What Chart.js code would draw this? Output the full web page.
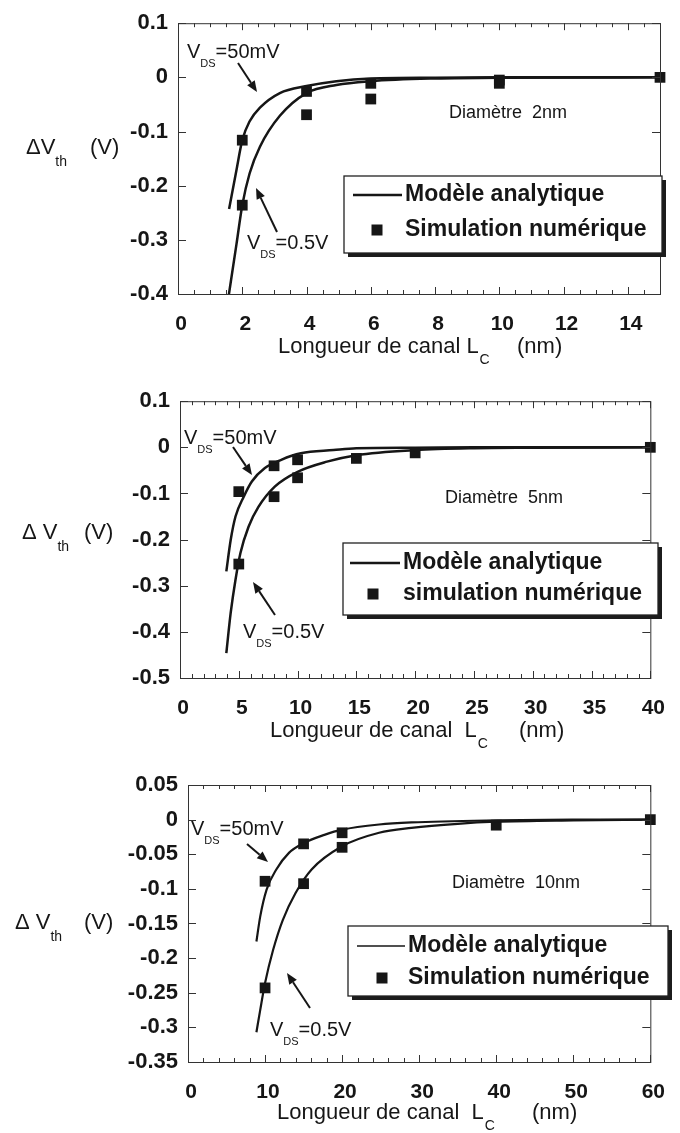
<!DOCTYPE html>
<html>
<head>
<meta charset="utf-8">
<script src="https://cdn.jsdelivr.net/npm/chart.js@4.4.1/dist/chart.umd.min.js"></script>
<style>
  body { margin: 0; background: #fff; width: 680px; height: 1133px; overflow: hidden; }
  .panel { position: absolute; left: 0; }
</style>
</head>
<body>
<div class="panel" style="top:0"><canvas id="c1" width="680" height="378"></canvas></div>
<div class="panel" style="top:378px"><canvas id="c2" width="680" height="378"></canvas></div>
<div class="panel" style="top:756px"><canvas id="c3" width="680" height="377"></canvas></div>
<script>
// ---- diameter 2 nm ----
const l1_50mV = [1.59, 1.82, 2.0, 2.23, 2.55, 3.17, 4, 4.93, 6, 8, 10, 15];
const v1_50mV = [-0.243, -0.171, -0.116, -0.081, -0.056, -0.029, -0.016, -0.007, -0.002, -0.0005, 0, 0];
const l1_05V = [1.56, 1.82, 2.0, 2.23, 2.55, 3.17, 4, 4.93, 6, 8, 10, 15];
const v1_05V = [-0.41, -0.308, -0.236, -0.177, -0.128, -0.071, -0.029, -0.014, -0.007, -0.002, -0.0005, 0];
const l1_sim = [2, 2, 4, 4, 6, 6, 10, 10, 15];
const v1_sim = [-0.116, -0.236, -0.026, -0.069, -0.011, -0.040, -0.005, -0.011, 0];

// ---- diameter 5 nm ----
const l2_50mV = [3.94, 4.31, 4.72, 5.42, 6.11, 7.22, 8.61, 10.28, 13.06, 15, 20, 25, 40];
const v2_50mV = [-0.269, -0.201, -0.150, -0.107, -0.074, -0.045, -0.027, -0.013, -0.006, -0.002, -0.001, 0, 0];
const l2_05V = [3.94, 4.31, 4.72, 5.14, 5.83, 6.67, 8.06, 10, 12.5, 15, 20, 25, 30, 40];
const v2_05V = [-0.446, -0.359, -0.287, -0.229, -0.172, -0.129, -0.085, -0.053, -0.031, -0.017, -0.006, -0.002, -0.001, 0];
const l2_sim = [5, 5, 8, 8, 10, 10, 15, 20, 40];
const v2_sim = [-0.096, -0.253, -0.040, -0.107, -0.027, -0.066, -0.024, -0.012, 0];

// ---- diameter 10 nm ----
const l3_50mV = [8.88, 9.37, 10.2, 11.46, 13.1, 15, 17.7, 20, 24.8, 29, 40, 50, 60];
const v3_50mV = [-0.176, -0.140, -0.101, -0.072, -0.048, -0.034, -0.022, -0.0145, -0.007, -0.004, -0.001, 0, 0];
const l3_05V = [8.88, 9.37, 10, 11.05, 12.3, 13.96, 16.04, 20, 24.8, 29, 35, 40, 50, 60];
const v3_05V = [-0.307, -0.275, -0.236, -0.188, -0.145, -0.106, -0.072, -0.0385, -0.019, -0.012, -0.006, -0.003, -0.001, 0];
const l3_sim = [10, 10, 15, 15, 20, 20, 40, 60];
const v3_sim = [-0.089, -0.243, -0.035, -0.0925, -0.019, -0.040, -0.008, 0];

const FONT = '"Liberation Sans", Arial, Helvetica, sans-serif';
const INK = "#161616";

const pts = (xs, ys) => xs.map((x, i) => ({ x: x, y: ys[i] }));

// draw a run of text pieces, left to right, vertically centred on y
function runText(ctx, x, y, parts) {
    let cx = x;
    ctx.textBaseline = "middle";
    ctx.textAlign = "left";
    for (const p of parts) {
        if (p.x !== undefined) cx = p.x;
        ctx.font = p.f;
        ctx.fillText(p.t, cx, y + (p.dy || 0));
        cx += ctx.measureText(p.t).width + (p.gap || 0);
    }
}

function arrow(ctx, x1, y1, x2, y2) {
    const ang = Math.atan2(y2 - y1, x2 - x1);
    const hl = 11, hw = 4.5;
    const bx = x2 - hl * Math.cos(ang), by = y2 - hl * Math.sin(ang);
    ctx.lineWidth = 2;
    ctx.beginPath();
    ctx.moveTo(x1, y1);
    ctx.lineTo(bx, by);
    ctx.stroke();
    ctx.beginPath();
    ctx.moveTo(x2, y2);
    ctx.lineTo(bx + hw * Math.sin(ang), by - hw * Math.cos(ang));
    ctx.lineTo(bx - hw * Math.sin(ang), by + hw * Math.cos(ang));
    ctx.closePath();
    ctx.fill();
}

const decor = {
    id: "decor",
    afterDraw(chart, args, o) {
        const { ctx, chartArea: a, scales: { x, y } } = chart;
        ctx.save();
        ctx.strokeStyle = "#333";
        ctx.fillStyle = INK;
        ctx.lineWidth = 1;
        ctx.strokeRect(a.left + 0.5, a.top + 0.5, a.right - a.left, a.bottom - a.top);

        // inward ticks
        ctx.beginPath();
        const nx = Math.round((x.max - x.min) / o.xMinor);
        for (let i = 0; i <= nx; i++) {
            const v = x.min + i * o.xMinor;
            const px = Math.round(x.getPixelForValue(v)) + 0.5;
            const r = v / o.xStep;
            const len = Math.abs(r - Math.round(r)) < 1e-6 ? 7 : 4;
            ctx.moveTo(px, a.bottom); ctx.lineTo(px, a.bottom - len);
            ctx.moveTo(px, a.top); ctx.lineTo(px, a.top + len);
        }
        const ny = Math.round((y.max - y.min) / o.yStep);
        for (let i = 0; i <= ny; i++) {
            const py = Math.round(y.getPixelForValue(y.min + i * o.yStep)) + 0.5;
            ctx.moveTo(a.left, py); ctx.lineTo(a.left + 8, py);
            ctx.moveTo(a.right, py); ctx.lineTo(a.right - 8, py);
        }
        ctx.stroke();

        // V_DS labels and arrows
        const big = "20px " + FONT, small = "11px " + FONT;
        for (const lb of o.vds) {
            runText(ctx, lb.x, lb.y, [
                { t: "V", f: big },
                { t: "DS", f: small, dy: 12 },
                { t: lb.t, f: big }
            ]);
        }
        ctx.strokeStyle = INK;
        for (const ar of o.arrows) arrow(ctx, ar[0], ar[1], ar[2], ar[3]);

        // diameter note
        runText(ctx, o.diam.x, o.diam.y, [{ t: o.diam.t, f: "18px " + FONT }]);

        // axis titles
        const tf = "22px " + FONT;
        runText(ctx, o.yt.x, o.yt.y, [
            { t: o.yt.t, f: tf },
            { t: "th", f: "14px " + FONT, dy: 14 },
            { t: "(V)", f: tf, x: o.yt.vx }
        ]);
        runText(ctx, o.xt.x, o.xt.y, [
            { t: o.xt.t, f: tf, gap: 1 },
            { t: "C", f: "14px " + FONT, dy: 13 },
            { t: "(nm)", f: tf, x: o.xt.nx }
        ]);

        // legend box with drop shadow
        const L = o.legend;
        ctx.fillStyle = "#1c1c1c";
        ctx.fillRect(L.x + 4, L.y + 4, L.w, L.h);
        ctx.fillStyle = "#fff";
        ctx.fillRect(L.x, L.y, L.w, L.h);
        ctx.strokeStyle = "#222";
        ctx.lineWidth = 1.3;
        ctx.strokeRect(L.x, L.y, L.w, L.h);
        ctx.strokeStyle = INK;
        ctx.lineWidth = o.lineW;
        ctx.beginPath();
        ctx.moveTo(L.x1, L.ly); ctx.lineTo(L.x2, L.ly);
        ctx.stroke();
        ctx.fillStyle = INK;
        ctx.fillRect(L.sx - 5.5, L.sy - 5.5, 11, 11);
        const lf = "bold 23px " + FONT;
        runText(ctx, L.tx, L.ly, [{ t: "Modèle analytique", f: lf }]);
        runText(ctx, L.tx, L.sy, [{ t: L.sim, f: lf }]);
        ctx.restore();
    }
};

function tickText(v) {
    return String(Number(v.toFixed(3)));
}

function makeChart(id, p) {
    const curve = (xs, ys) => ({
        data: pts(xs, ys),
        showLine: true,
        pointRadius: 0,
        borderColor: INK,
        borderWidth: p.lineW,
        cubicInterpolationMode: "monotone",
        fill: false
    });
    new Chart(document.getElementById(id), {
        type: "scatter",
        data: {
            datasets: [
                curve(p.l50, p.v50),
                curve(p.l05, p.v05),
                {
                    data: pts(p.lsim, p.vsim),
                    pointStyle: "rect",
                    pointRadius: 7.6,
                    backgroundColor: INK,
                    borderWidth: 0,
                    clip: false
                }
            ]
        },
        options: {
            responsive: false,
            animation: false,
            events: [],
            layout: { padding: { top: p.top, right: p.right, bottom: 0, left: 0 } },
            scales: {
                x: {
                    type: "linear",
                    min: p.xMin,
                    max: p.xMax,
                    afterFit: s => { s.height = p.xH; },
                    grid: { display: false, drawTicks: false },
                    border: { display: false },
                    ticks: {
                        stepSize: p.xStep,
                        includeBounds: false,
                        autoSkip: false,
                        maxRotation: 0,
                        padding: 18,
                        labelOffset: 3,
                        color: INK,
                        font: { family: FONT, size: 21, weight: "bold" },
                        callback: tickText
                    }
                },
                y: {
                    type: "linear",
                    min: p.yMin,
                    max: p.yMax,
                    afterFit: s => { s.width = p.left; },
                    grid: { display: false, drawTicks: false },
                    border: { display: false },
                    ticks: {
                        stepSize: p.yStep,
                        includeBounds: false,
                        autoSkip: false,
                        padding: 10,
                        color: INK,
                        font: { family: FONT, size: 22, weight: "bold" },
                        callback: tickText
                    }
                }
            },
            plugins: {
                legend: { display: false },
                tooltip: { enabled: false },
                decor: p.decor
            }
        },
        plugins: [decor]
    });
}

makeChart("c1", {
    l50: l1_50mV, v50: v1_50mV, l05: l1_05V, v05: v1_05V, lsim: l1_sim, vsim: v1_sim,
    xMin: 0, xMax: 15, xStep: 2, yMin: -0.4, yMax: 0.1, yStep: 0.1,
    left: 178, right: 20, top: 16, xH: 84, lineW: 2.5,
    decor: {
        xStep: 2, xMinor: 0.5, yStep: 0.1, lineW: 2.5,
        vds: [{ x: 187, y: 52, t: "=50mV" }, { x: 247, y: 243, t: "=0.5V" }],
        arrows: [[238, 63, 257, 92], [277, 232, 256, 188]],
        diam: { x: 449, y: 113, t: "Diamètre  2nm" },
        yt: { x: 26, y: 148, t: "ΔV", vx: 90 },
        xt: { x: 278, y: 347, t: "Longueur de canal L", nx: 517 },
        legend: { x: 344, y: 176, w: 318, h: 77, x1: 353, x2: 402, ly: 195, tx: 405,
                  sx: 377, sy: 230, sim: "Simulation numérique" }
    }
});

makeChart("c2", {
    l50: l2_50mV, v50: v2_50mV, l05: l2_05V, v05: v2_05V, lsim: l2_sim, vsim: v2_sim,
    xMin: 0, xMax: 40, xStep: 5, yMin: -0.5, yMax: 0.1, yStep: 0.1,
    left: 180, right: 20, top: 23, xH: 78, lineW: 2.5,
    decor: {
        xStep: 5, xMinor: 1, yStep: 0.1, lineW: 2.5,
        vds: [{ x: 184, y: 60, t: "=50mV" }, { x: 243, y: 254, t: "=0.5V" }],
        arrows: [[233, 69, 252, 97], [275, 237, 253, 204]],
        diam: { x: 445, y: 120, t: "Diamètre  5nm" },
        yt: { x: 22, y: 155, t: "Δ V", vx: 84 },
        xt: { x: 270, y: 353, t: "Longueur de canal  L", nx: 519 },
        legend: { x: 343, y: 165, w: 315, h: 72, x1: 350, x2: 400, ly: 185, tx: 403,
                  sx: 373, sy: 216, sim: "simulation numérique" }
    }
});

makeChart("c3", {
    l50: l3_50mV, v50: v3_50mV, l05: l3_05V, v05: v3_05V, lsim: l3_sim, vsim: v3_sim,
    xMin: 0, xMax: 60, xStep: 10, yMin: -0.35, yMax: 0.05, yStep: 0.05,
    left: 188, right: 12, top: 29, xH: 71, lineW: 2.2,
    decor: {
        xStep: 10, xMinor: 2, yStep: 0.05, lineW: 1.6,
        vds: [{ x: 191, y: 73, t: "=50mV" }, { x: 270, y: 274, t: "=0.5V" }],
        arrows: [[247, 88, 268, 106], [310, 252, 287, 217]],
        diam: { x: 452, y: 127, t: "Diamètre  10nm" },
        yt: { x: 15, y: 167, t: "Δ V", vx: 84 },
        xt: { x: 277, y: 357, t: "Longueur de canal  L", nx: 532 },
        legend: { x: 348, y: 170, w: 320, h: 70, x1: 357, x2: 405, ly: 190, tx: 408,
                  sx: 382, sy: 222, sim: "Simulation numérique" }
    }
});
</script>
</body>
</html>
